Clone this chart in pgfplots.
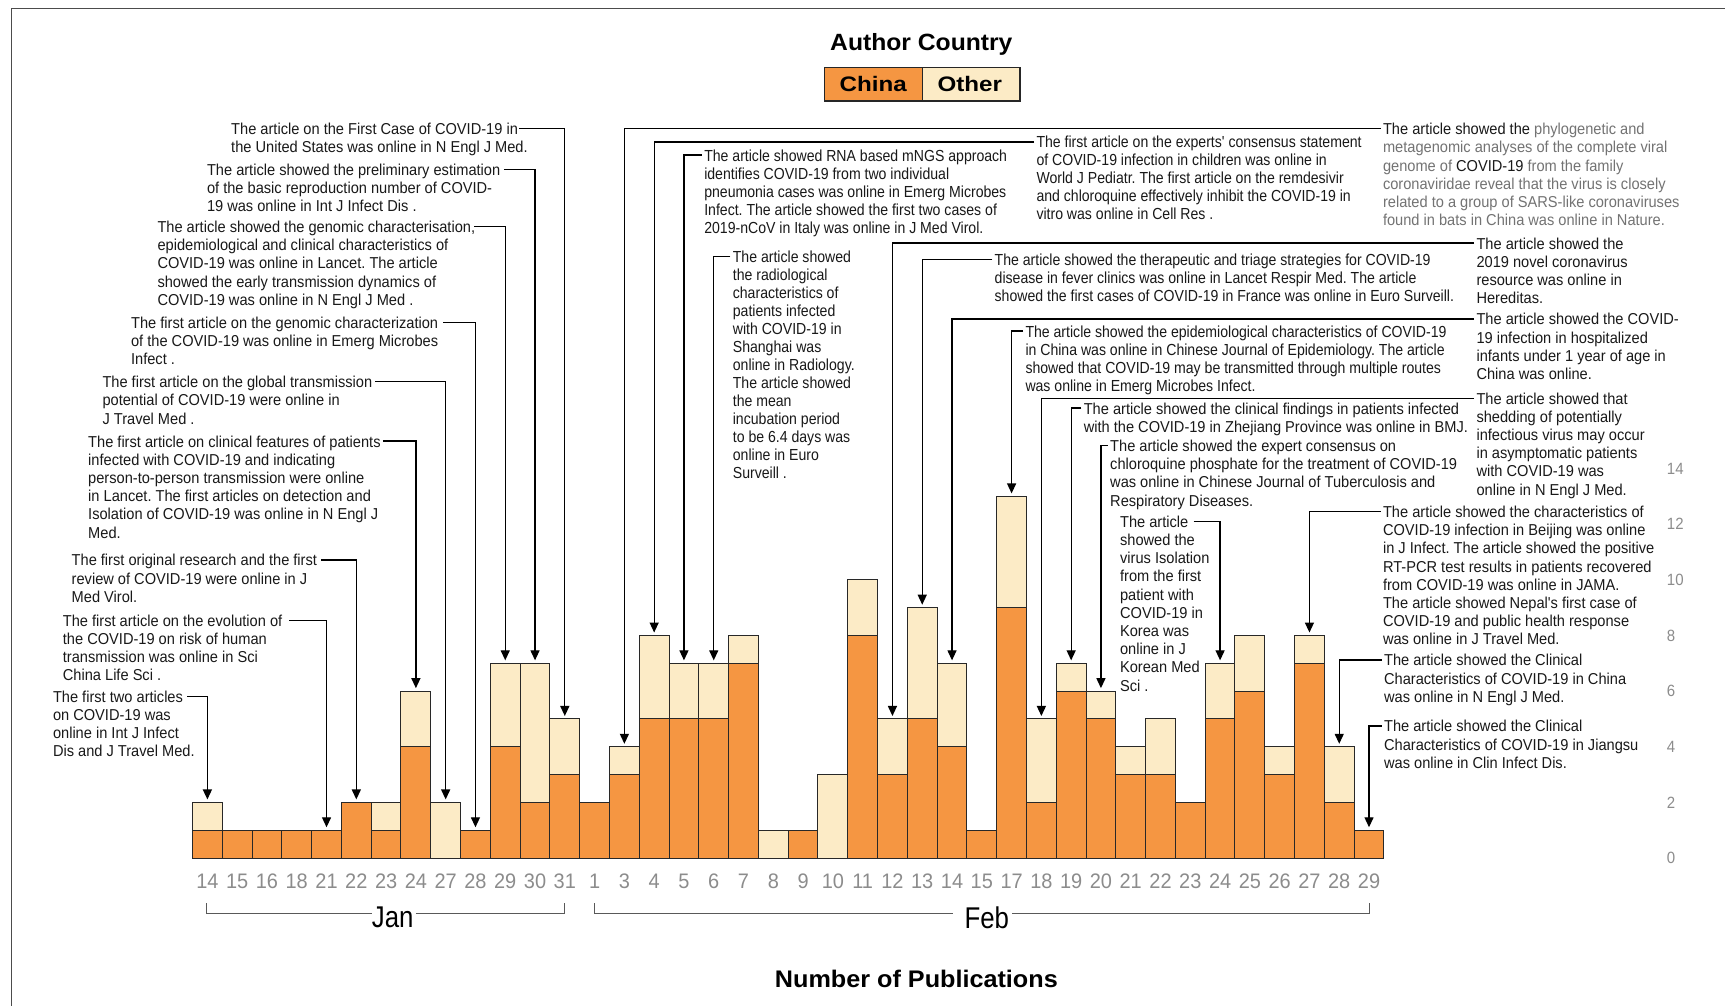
\documentclass[border=0pt]{standalone}
\usepackage{pgfplots}
\pgfplotsset{compat=1.18}
\usepackage{pgfplotstable}
\usepackage{fontspec}
\setmainfont{Liberation Sans}
\newfontfamily\ann[FakeStretch=0.925]{Liberation Sans}
\newfontfamily\annc[FakeStretch=0.88]{Liberation Sans}
\newfontfamily\ttl[FakeStretch=1.05]{Liberation Sans}
\newfontfamily\lgd[FakeStretch=1.15]{Liberation Sans}
\newfontfamily\tickf[FakeStretch=0.95]{Liberation Sans}
\newfontfamily\ytickf[FakeStretch=0.92]{Liberation Sans}
\newfontfamily\mon[FakeStretch=0.86]{Liberation Sans}
\usetikzlibrary{arrows.meta}
\definecolor{cn}{RGB}{245,150,66}
\definecolor{ot}{RGB}{252,235,198}
\definecolor{tk}{RGB}{140,140,140}
\definecolor{txg}{RGB}{115,115,115}
\definecolor{edge}{RGB}{40,40,40}
\frenchspacing

\pgfplotstableread{
x china other
0 1 1
1 1 0
2 1 0
3 1 0
4 1 0
5 2 0
6 1 1
7 4 2
8 0 2
9 1 0
10 4 3
11 2 5
12 3 2
13 2 0
14 3 1
15 5 3
16 5 2
17 5 2
18 7 1
19 0 1
20 1 0
21 0 3
22 8 2
23 3 2
24 5 4
25 4 3
26 1 0
27 9 4
28 2 3
29 6 1
30 5 1
31 3 1
32 3 2
33 2 0
34 5 2
35 6 2
36 3 1
37 7 1
38 2 2
39 1 0
}\data

\tikzset{
 ta/.style={anchor=north west, inner sep=0pt, align=left, font=\ann\fontsize{15.8pt}{18.2pt}\selectfont\frenchspacing, text=black!90},
 tc/.style={anchor=north west, inner sep=0pt, align=left, font=\annc\fontsize{16pt}{18pt}\selectfont\frenchspacing, text=black!90},
 arr/.style={draw=black, line width=1.3pt, -{Triangle[length=10pt,width=9pt]}, shorten >=3pt}
}

\begin{document}
\begin{tikzpicture}
\useasboundingbox (0,0) rectangle (1725pt,1005pt);
\fill[white] (0,0) rectangle (1725pt,1005pt);
\begin{axis}[
  at={(192.5pt,146.9pt)}, anchor=south west,
  scale only axis, width=1469.5pt, height=389.5pt,
  xmin=-0.5, xmax=48.837, ymin=0, ymax=14,
  ybar stacked, bar width=1,
  axis line style={draw=none}, major tick length=0pt,
  xtick={0,...,39},
  xticklabels={14,15,16,18,21,22,23,24,27,28,29,30,31,1,3,4,5,6,7,8,9,10,11,12,13,14,15,17,18,19,20,21,22,23,24,25,26,27,28,29},
  xticklabel style={font=\tickf\fontsize{21pt}{21pt}\selectfont, text=tk, anchor=north, inner sep=0pt, yshift=-16pt},
  ytick={0,2,...,14}, yticklabels={0,2,4,6,8,10,12,14},
  yticklabel pos=right,
  yticklabel style={font=\ytickf\fontsize{16.3pt}{16.3pt}\selectfont, text=tk, anchor=west, inner sep=0pt, xshift=4.7pt},
  /pgf/number format/assume math mode=true,
  clip=false,
]
\addplot[fill=cn, draw=edge, line width=1pt] table[x=x,y=china]{\data};
\addplot[fill=ot, draw=edge, line width=1pt] table[x=x,y=other]{\data};
\coordinate (j14) at (axis cs:0,2);
\coordinate (j21) at (axis cs:4,1);
\coordinate (j22) at (axis cs:5,2);
\coordinate (j24) at (axis cs:7,6);
\coordinate (j27) at (axis cs:8,2);
\coordinate (j28) at (axis cs:9,1);
\coordinate (j29) at (axis cs:10,7);
\coordinate (j30) at (axis cs:11,7);
\coordinate (j31) at (axis cs:12,5);
\coordinate (f3) at (axis cs:14,4);
\coordinate (f4) at (axis cs:15,8);
\coordinate (f5) at (axis cs:16,7);
\coordinate (f6) at (axis cs:17,7);
\coordinate (f12) at (axis cs:23,5);
\coordinate (f13) at (axis cs:24,9);
\coordinate (f14) at (axis cs:25,7);
\coordinate (f17) at (axis cs:27,13);
\coordinate (f18) at (axis cs:28,5);
\coordinate (f19) at (axis cs:29,7);
\coordinate (f20) at (axis cs:30,6);
\coordinate (f24) at (axis cs:34,7);
\coordinate (f27) at (axis cs:37,8);
\coordinate (f28) at (axis cs:38,4);
\coordinate (f29) at (axis cs:39,1);
\end{axis}

\begin{scope}[shift={(0pt,1005pt)}, x=1.1001pt, y=-1.1001pt]
% frame
\draw[black!70, line width=1pt] (10,1000) -- (10,8) -- (1600,8);
% title and legend
\node[anchor=base, font=\ttl\bfseries\fontsize{23.5pt}{24pt}\selectfont] at (837.5,45.5) {Author Country};
\draw[fill=cn, draw=black!85, line width=1.5pt] (749.3,61.2) rectangle (838.7,91.8);
\draw[fill=ot, draw=black!85, line width=1.5pt] (838.7,61.2) rectangle (927.2,91.8);
\node[anchor=base, font=\lgd\bfseries\fontsize{21pt}{21pt}\selectfont] at (793.8,83.4) {China};
\node[anchor=base, font=\lgd\bfseries\fontsize{21pt}{21pt}\selectfont] at (881.5,83.4) {Other};
\node[font=\ttl\bfseries\fontsize{24pt}{24pt}\selectfont] at (833,890) {Number of Publications};
% month brackets
\draw[black!65, line width=1pt] (188,821) -- (188,830) -- (338,830);
\draw[black!65, line width=1pt] (378,830) -- (513,830) -- (513,821);
\node[font=\mon\fontsize{30pt}{30pt}\selectfont] at (357,834) {Jan};
\draw[black!65, line width=1pt] (540,821) -- (540,830) -- (866,830);
\draw[black!65, line width=1pt] (920,830) -- (1245,830) -- (1245,821);
\node[font=\mon\fontsize{30pt}{30pt}\selectfont] at (897,834) {Feb};

% ---- January annotations
\node[ta] at (210,111.8) {The article on the First Case of COVID-19 in\\the United States was online in N Engl J Med.};
\draw[arr] (472,117) -| (j31);
\node[ta] at (188,148.8) {The article showed the preliminary estimation\\of the basic reproduction number of COVID-\\19 was online in Int J Infect Dis .};
\draw[arr] (458,154) -| (j30);
\node[ta] at (143,200.8) {The article showed the genomic characterisation,\\epidemiological and clinical characteristics of\\COVID-19 was online in Lancet. The article\\showed the early transmission dynamics of\\COVID-19 was online in N Engl J Med .};
\draw[arr] (431,206) -| (j29);
\node[ta] at (119,287.8) {The first article on the genomic characterization\\of the COVID-19 was online in Emerg Microbes\\Infect .};
\draw[arr] (403,293) -| (j28);
\node[ta] at (93,341.8) {The first article on the global transmission\\potential of COVID-19 were online in\\J Travel Med .};
\draw[arr] (341,347) -| (j27);
\node[ta] at (80,395.8) {The first article on clinical features of patients\\infected with COVID-19 and indicating\\person-to-person transmission were online\\in Lancet. The first articles on detection and\\Isolation of COVID-19 was online in N Engl J\\Med.};
\draw[arr] (348,401) -| (j24);
\node[ta] at (65,503.8) {The first original research and the first\\review of COVID-19 were online in J\\Med Virol.};
\draw[arr] (292,509) -| (j22);
\node[ta] at (57,558.8) {The first article on the evolution of\\the COVID-19 on risk of human\\transmission was online in Sci\\China Life Sci .};
\draw[arr] (263,564) -| (j21);
\node[ta] at (48,627.8) {The first two articles\\on COVID-19 was\\online in Int J Infect\\Dis and J Travel Med.};
\draw[arr] (170,633) -| (j14);

% ---- February annotations
\node[ta] at (1257,111.8) {The article showed the \textcolor{txg}{phylogenetic and}\\\textcolor{txg}{metagenomic analyses of the complete viral}\\\textcolor{txg}{genome of} COVID-19 \textcolor{txg}{from the family}\\\textcolor{txg}{coronaviridae reveal that the virus is closely}\\\textcolor{txg}{related to a group of SARS-like coronaviruses}\\\textcolor{txg}{found in bats in China was online in Nature.}};
\draw[arr] (1255,117) -| (f3);
\node[tc] at (942,123.8) {The first article on the experts' consensus statement\\of COVID-19 infection in children was online in\\World J Pediatr. The first article on the remdesivir\\and chloroquine effectively inhibit the COVID-19 in\\vitro was online in Cell Res .};
\draw[arr] (940,129) -| (f4);
\node[tc] at (640,135.8) {The article showed RNA based mNGS approach\\identifies COVID-19 from two individual\\pneumonia cases was online in Emerg Microbes\\Infect. The article showed the first two cases of\\2019-nCoV in Italy was online in J Med Virol.};
\draw[arr] (638,141) -| (f5);
\node[tc] at (666,227.8) {The article showed\\the radiological\\characteristics of\\patients infected\\with COVID-19 in\\Shanghai was\\online in Radiology.\\The article showed\\the mean\\incubation period\\to be 6.4 days was\\online in Euro\\Surveill .};
\draw[arr] (664,233) -| (f6);
\node[ta] at (1342,215.8) {The article showed the\\2019 novel coronavirus\\resource was online in\\Hereditas.};
\draw[arr] (1340,221) -| (f12);
\node[tc] at (904,230.8) {The article showed the therapeutic and triage strategies for COVID-19\\disease in fever clinics was online in Lancet Respir Med. The article\\showed the first cases of COVID-19 in France was online in Euro Surveill.};
\draw[arr] (902,236) -| (f13);
\node[ta] at (1342,284.8) {The article showed the COVID-\\19 infection in hospitalized\\infants under 1 year of age in\\China was online.};
\draw[arr] (1340,290) -| (f14);
\node[tc] at (932,295.8) {The article showed the epidemiological characteristics of COVID-19\\in China was online in Chinese Journal of Epidemiology. The article\\showed that COVID-19 may be transmitted through multiple routes\\was online in Emerg Microbes Infect.};
\draw[arr] (930,301) -| (f17);
\node[ta] at (1342,356.8) {The article showed that\\shedding of potentially\\infectious virus may occur\\in asymptomatic patients\\with COVID-19 was\\online in N Engl J Med.};
\draw[arr] (1340,362) -| (f18);
\node[ta] at (985,365.8) {The article showed the clinical findings in patients infected\\with the COVID-19 in Zhejiang Province was online in BMJ.};
\draw[arr] (983,371) -| (f19);
\node[ta] at (1009,399.8) {The article showed the expert consensus on\\chloroquine phosphate for the treatment of COVID-19\\was online in Chinese Journal of Tuberculosis and\\Respiratory Diseases.};
\draw[arr] (1007,405) -| (f20);
\node[ta] at (1018,468.8) {The article\\showed the\\virus Isolation\\from the first\\patient with\\COVID-19 in\\Korea was\\online in J\\Korean Med\\Sci .};
\draw[arr] (1085,474) -| (f24);
\node[ta] at (1257,459.8) {The article showed the characteristics of\\COVID-19 infection in Beijing was online\\in J Infect. The article showed the positive\\RT-PCR test results in patients recovered\\from COVID-19 was online in JAMA.\\The article showed Nepal's first case of\\COVID-19 and public health response\\was online in J Travel Med.};
\draw[arr] (1255,465) -| (f27);
\node[ta] at (1258,594.8) {The article showed the Clinical\\Characteristics of COVID-19 in China\\was online in N Engl J Med.};
\draw[arr] (1256,600) -| (f28);
\node[ta] at (1258,654.8) {The article showed the Clinical\\Characteristics of COVID-19 in Jiangsu\\was online in Clin Infect Dis.};
\draw[arr] (1256,660) -| (f29);
\end{scope}
\end{tikzpicture}
\end{document}
